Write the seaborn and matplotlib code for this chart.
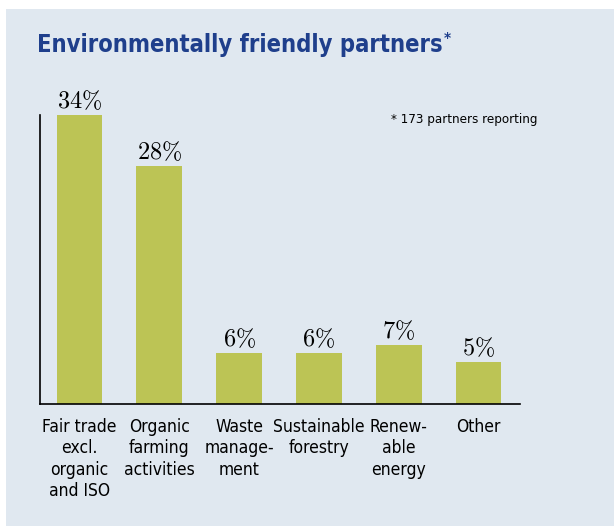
import pandas as pd
import seaborn as sns
import matplotlib.pyplot as plt
from matplotlib.patches import Rectangle

# Data
categories = ['Fair trade\nexcl.\norganic\nand ISO', 'Organic\nfarming\nactivities',
              'Waste\nmanage-\nment', 'Sustainable\nforestry', 'Renew-\nable\nenergy', 'Other']
values = [34, 28, 6, 6, 7, 5]

df = pd.DataFrame({'cat': categories, 'val': values})

sns.set_style('white')
plt.rcParams['font.family'] = ['Liberation Sans Narrow', 'DejaVu Sans']
plt.rcParams['font.stretch'] = 'condensed'
plt.rcParams['mathtext.fontset'] = 'cm'
plt.rcParams['text.color'] = 'black'

fig = plt.figure(figsize=(6.14, 5.26), dpi=100, facecolor='white')
# light panel behind everything
fig.patches.append(Rectangle((6 / 614, 0), 1, 1 - 9 / 526, transform=fig.transFigure,
                             facecolor='#e0e8f0', edgecolor='none', zorder=-10))

ax = fig.add_axes([40 / 614, 122 / 526, 480 / 614, 289 / 526])
ax.set_facecolor('none')
ax.set_zorder(2)

sns.barplot(data=df, x='cat', y='val', color='#bcc455', saturation=1, width=0.575,
            linewidth=0, ax=ax)

labels = [r'$%d\%%$' % v for v in values]
ax.bar_label(ax.containers[0], labels=labels, padding=1, fontsize=17.5, color='black')

ax.set_xlim(-0.495, 5.52)
ax.set_ylim(0, 34)
ax.set_yticks([])
ax.set_xlabel('')
ax.set_ylabel('')
ax.tick_params(axis='x', length=0, pad=10, labelsize=12.5, labelcolor='black')
for t in ax.get_xticklabels():
    t.set_linespacing(1.25)

sns.despine(ax=ax)
for s in ['left', 'bottom']:
    ax.spines[s].set_color('black')
    ax.spines[s].set_linewidth(1.2)

title = fig.text(37 / 614, 1 - 45 / 526, 'Environmentally friendly partners', fontsize=17,
                 fontweight='bold', color='#1f3f8c', va='center', ha='left')
fig.canvas.draw()
bb = title.get_window_extent()
fig.text(bb.x1 / fig.bbox.width + 0.002, bb.y1 / fig.bbox.height - 0.012, '*', fontsize=11,
         fontweight='bold', color='#1f3f8c', va='center', ha='left')
fig.text(391 / 614, 1 - 120 / 526, '* 173 partners reporting', fontsize=9.5,
         color='black', va='center', ha='left')

fig.savefig('out.png', dpi=100, facecolor='white')
